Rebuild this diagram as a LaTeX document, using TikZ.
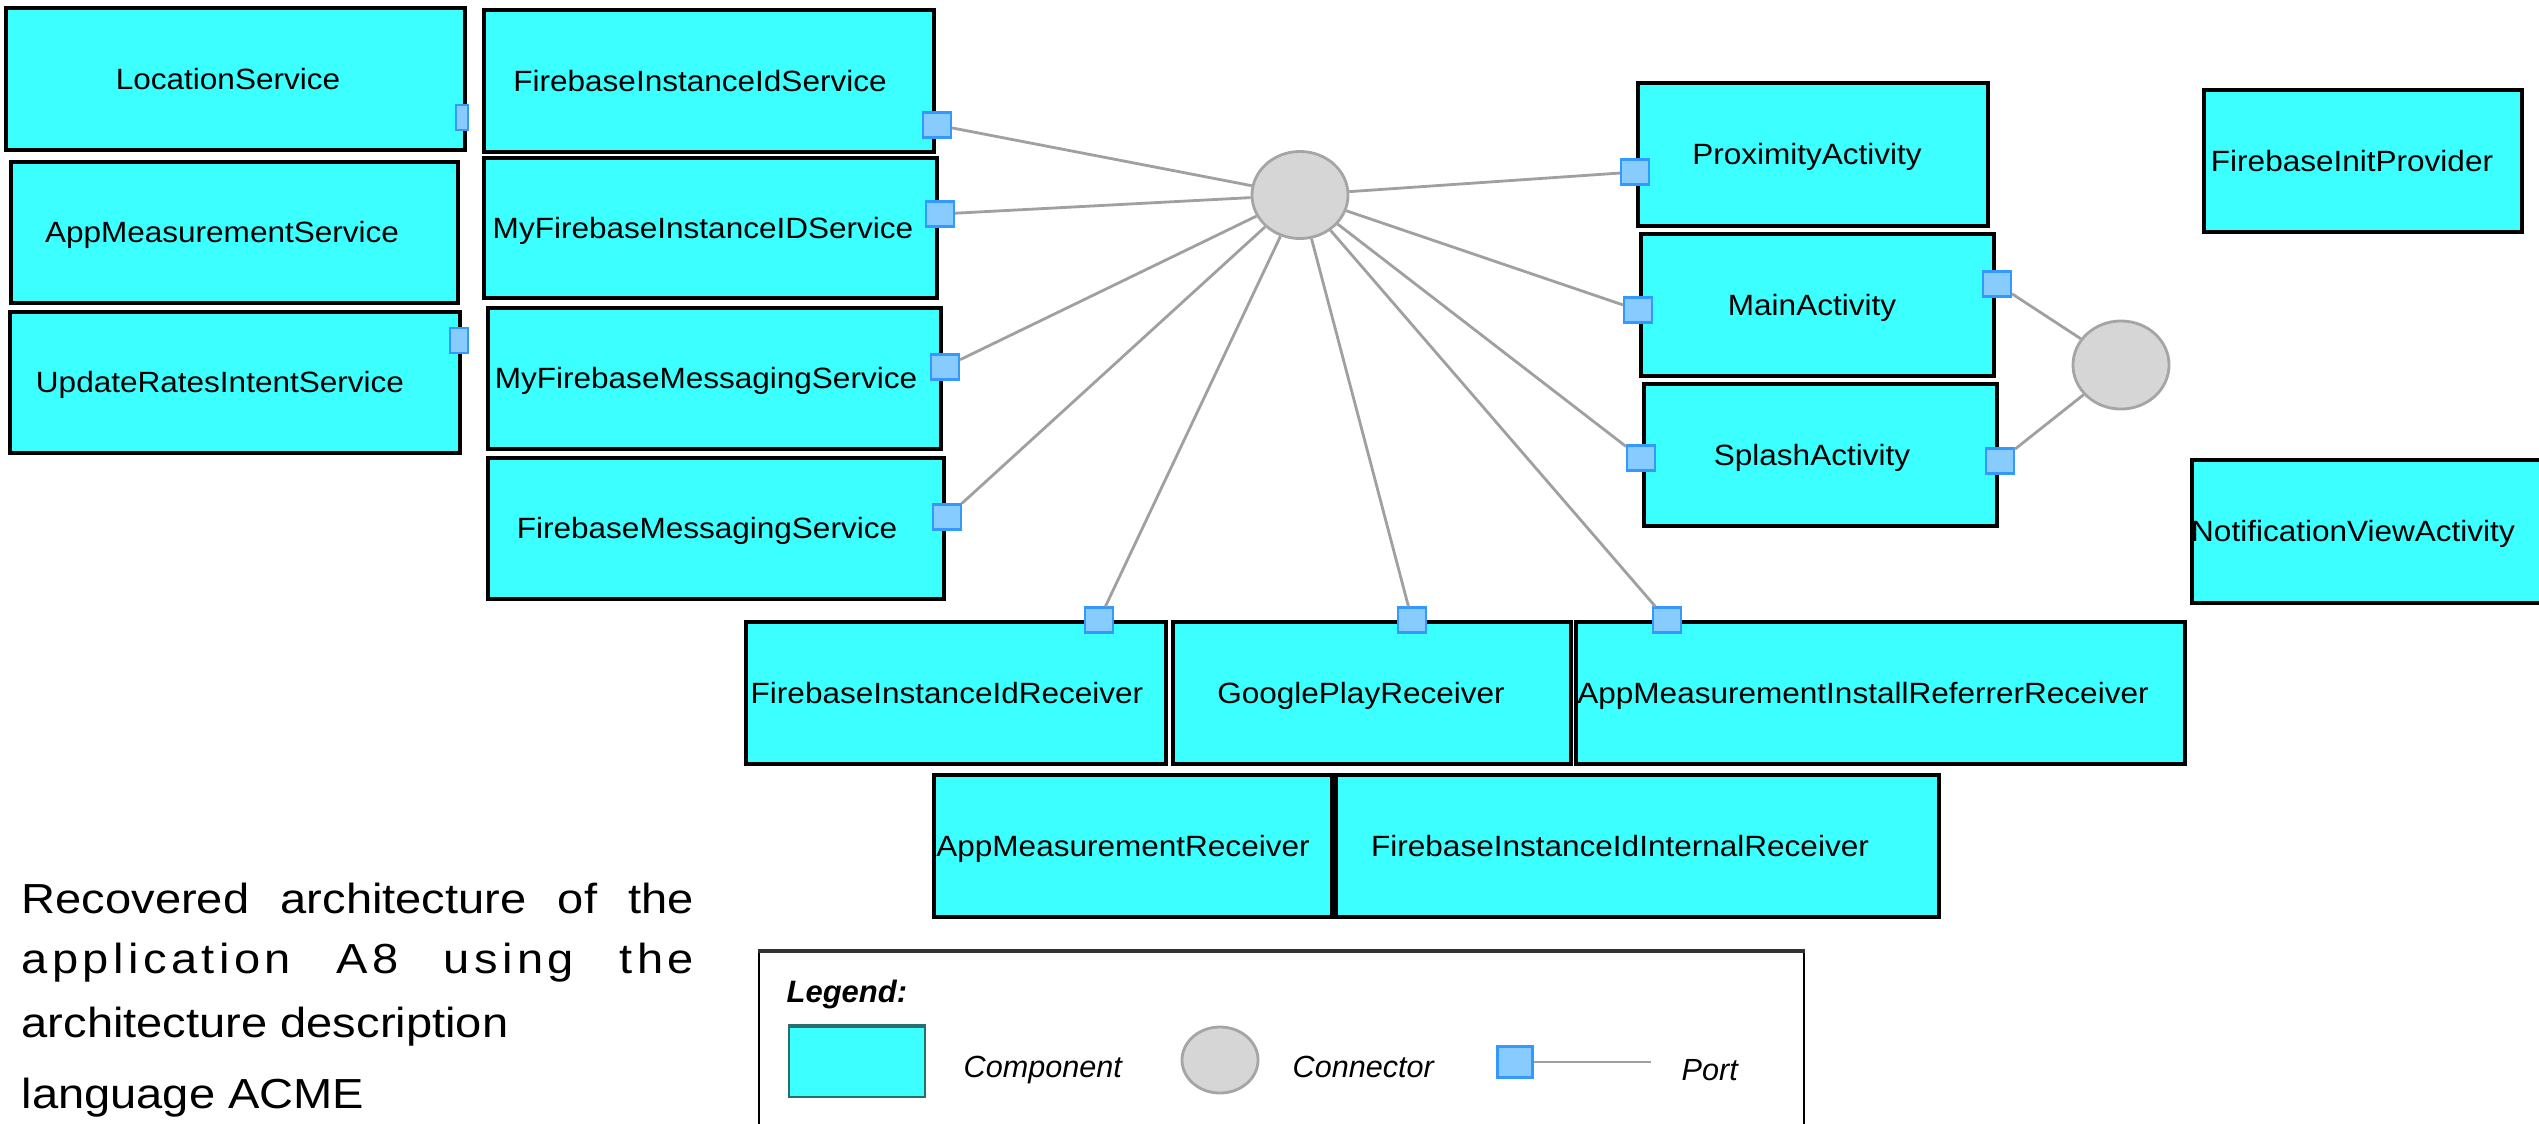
\documentclass[tikz,border=0pt]{standalone}
\usepackage{fontspec}
\setmainfont{Liberation Sans}
\newfontfamily\boxfont[FakeStretch=1.075]{Liberation Sans}
\newfontfamily\capfont[FakeStretch=1.12]{Liberation Sans}
\usetikzlibrary{shapes.geometric,fit}
\definecolor{compcyan}{RGB}{60,255,255}
\definecolor{portfill}{RGB}{136,204,255}
\definecolor{portdraw}{RGB}{51,153,255}
\definecolor{wiregray}{RGB}{160,160,160}
\definecolor{connfill}{RGB}{214,214,214}
\definecolor{conndraw}{RGB}{165,165,165}
\definecolor{swatchedge}{RGB}{40,110,110}
\begin{document}
\begin{tikzpicture}[x=0.01cm,y=-0.01cm,
  compbox/.style={rectangle, draw=black, line width=0.9pt, fill=compcyan, inner sep=0pt},
  comptext/.style={anchor=base, inner sep=0pt, font=\boxfont\fontsize{8.34}{10}\selectfont},
  portbox/.style={rectangle, draw=portdraw, line width=0.6pt, fill=portfill, inner sep=0pt,
    minimum width=0.28cm, minimum height=0.25cm},
  connell/.style={ellipse, draw=conndraw, line width=0.8pt, fill=connfill, inner sep=0pt,
    minimum width=0.96cm, minimum height=0.87cm},
  wire/.style={draw=wiregray, line width=0.8pt},
  captext/.style={anchor=base west, inner sep=0pt, font=\capfont\fontsize{11.95}{14}\selectfont},
  legtext/.style={anchor=base west, inner sep=0pt, font=\itshape\fontsize{8.7}{10}\selectfont}]
\useasboundingbox (0,0) rectangle (2539,1123);
\clip (0,0) rectangle (2539,1123);

% components
\node[compbox, fit={(6,8) (465,150)}] (ls) {};
\node[comptext] (lsT) at (228,89) {LocationService};
\node[compbox, fit={(484,10) (934,152)}] (fis) {};
\node[comptext] (fisT) at (700,91) {FirebaseInstanceIdService};
\node[compbox, fit={(11,162) (458,303)}] (ams) {};
\node[comptext] (amsT) at (222,242) {AppMeasurementService};
\node[compbox, fit={(484,158) (937,298)}] (mfis) {};
\node[comptext] (mfisT) at (703,238) {MyFirebaseInstanceIDService};
\node[compbox, fit={(10,312) (460,453)}] (uris) {};
\node[comptext] (urisT) at (220,392) {UpdateRatesIntentService};
\node[compbox, fit={(488,308) (941,449)}] (mfms) {};
\node[comptext] (mfmsT) at (706,388) {MyFirebaseMessagingService};
\node[compbox, fit={(488,458) (944,599)}] (fms) {};
\node[comptext] (fmsT) at (707,538) {FirebaseMessagingService};
\node[compbox, fit={(1638,83) (1988,226)}] (pa) {};
\node[comptext] (paT) at (1807,164) {ProximityActivity};
\node[compbox, fit={(1641,234) (1994,376)}] (ma) {};
\node[comptext] (maT) at (1812,315) {MainActivity};
\node[compbox, fit={(1644,384) (1997,526)}] (sa) {};
\node[comptext] (saT) at (1812,465) {SplashActivity};
\node[compbox, fit={(2204,90) (2522,232)}] (fip) {};
\node[comptext] (fipT) at (2352,171) {FirebaseInitProvider};
\node[compbox, fit={(2192,460) (2548,603)}] (nva) {};
\node[comptext] (nvaT) at (2353,541) {NotificationViewActivity};
\node[compbox, fit={(746,622) (1166,764)}] (fir) {};
\node[comptext] (firT) at (947,703) {FirebaseInstanceIdReceiver};
\node[compbox, fit={(1173,622) (1571,764)}] (gpr) {};
\node[comptext] (gprT) at (1361,703) {GooglePlayReceiver};
\node[compbox, fit={(1576,622) (2185,764)}] (amirr) {};
\node[comptext] (amirrT) at (1863,703) {AppMeasurementInstallReferrerReceiver};
\node[compbox, fit={(934,775) (1332,917)}] (amr) {};
\node[comptext] (amrT) at (1123,856) {AppMeasurementReceiver};
\node[compbox, fit={(1336,775) (1939,917)}] (fiir) {};
\node[comptext] (fiirT) at (1620,856) {FirebaseInstanceIdInternalReceiver};

% ports
\node[portbox, minimum width=0.12cm] (pls) at (462,117.5) {};
\node[portbox, minimum width=0.18cm] (puris) at (459,340.5) {};
\node[portbox] (pfis) at (937,125) {};
\node[portbox] (pmfis) at (940,214) {};
\node[portbox] (pmfms) at (945,367) {};
\node[portbox] (pfms) at (947,517) {};
\node[portbox] (ppa) at (1635,172) {};
\node[portbox] (pmal) at (1638,310) {};
\node[portbox] (pmar) at (1997,284) {};
\node[portbox] (psal) at (1641,458) {};
\node[portbox] (psar) at (2000,461) {};
\node[portbox] (pfir) at (1099,620) {};
\node[portbox] (pgpr) at (1412,620) {};
\node[portbox] (pamirr) at (1667,620) {};

% connectors
\node[connell] (c1) at (1300,195) {};
\node[connell, minimum height=0.88cm] (c2) at (2121,365) {};

\foreach \p in {pfis,pmfis,pmfms,pfms,ppa,pmal,psal,pfir,pgpr,pamirr}
  \draw[wire] (c1) -- (\p);
\draw[wire] (c2) -- (pmar);
\draw[wire] (c2) -- (psar);

% caption
\node[captext] (cap1) at (21,913) {\makebox[6.72cm][s]{Recovered architecture of the}};
\node[captext] (cap2) at (21,973) {\addfontfeature{LetterSpace=10.5}\makebox[6.72cm][s]{application A8 using the}};
\node[captext] (cap3) at (21,1037) {architecture description};
\node[captext] (cap4) at (21,1108) {language ACME};

% legend
\node[rectangle, draw=black, line width=0.6pt, inner sep=0pt, fit={(759,952) (1804,1140)}] (legend) {};
\draw[draw=black!80, line width=1.2pt] (legend.north west) -- (legend.north east);
\node[anchor=base west, inner sep=0pt, font=\bfseries\itshape\fontsize{8.8}{10}\selectfont] (legT) at (786,1002) {Legend:};
\node[rectangle, fill=compcyan, draw=swatchedge, line width=0.5pt, inner sep=0pt, fit={(789,1027) (925,1097)}] (lcomp) {};
\draw[draw=swatchedge, line width=1pt] (lcomp.north west) -- (lcomp.north east);
\node[legtext] (lcompT) at (963,1077) {Component};
\node[connell, minimum width=0.76cm, minimum height=0.66cm] (lconn) at (1220,1060) {};
\node[legtext] (lconnT) at (1292,1077) {Connector};
\node[portbox, minimum width=0.35cm, minimum height=0.31cm] (lport) at (1515,1062) {};
\coordinate (lportend) at (1651,1062);
\draw[wire] (lport) -- (lportend);
\node[legtext] (lportT) at (1681,1080) {Port};
\end{tikzpicture}
\end{document}
